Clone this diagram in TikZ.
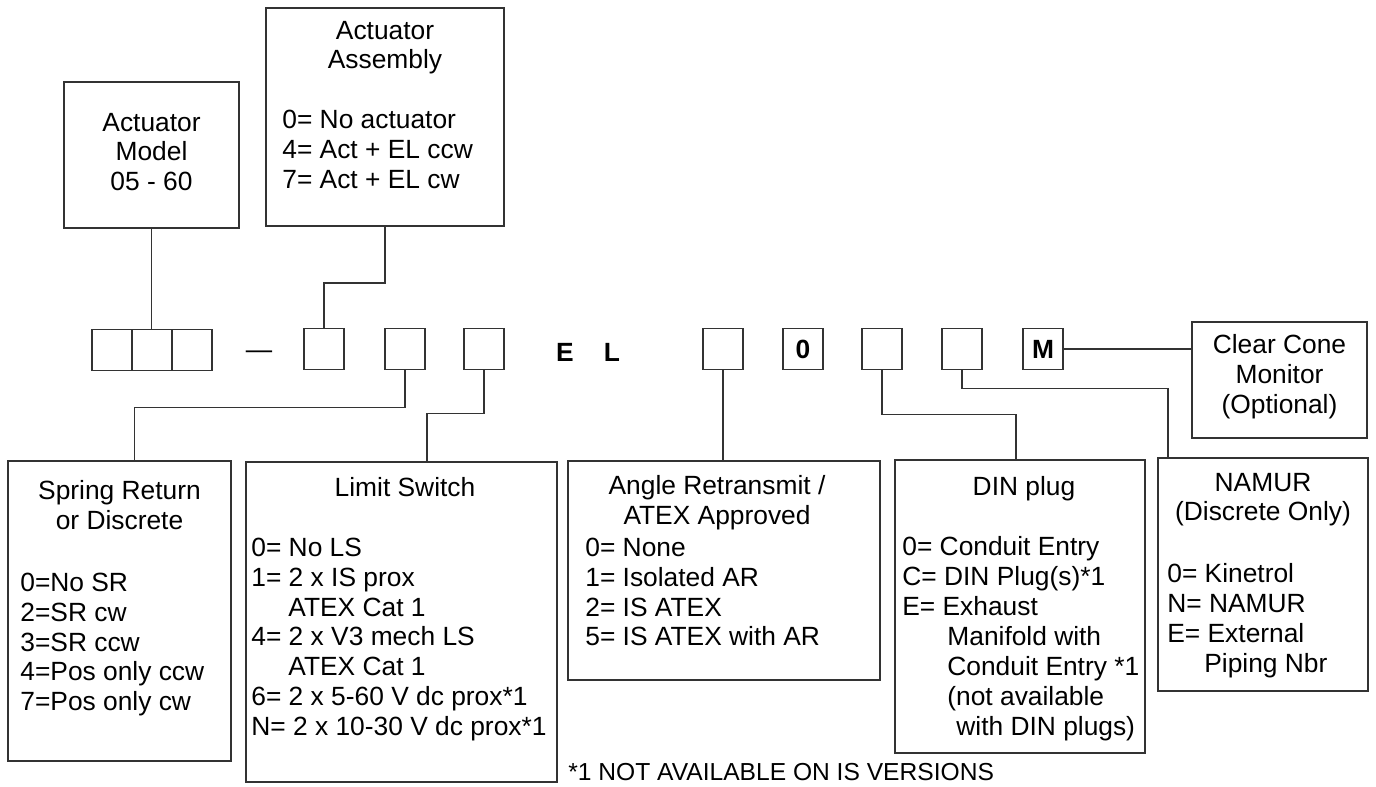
\documentclass[tikz,border=0pt]{standalone}
\usepackage{fontspec}
\setmainfont{Liberation Sans}
\usetikzlibrary{positioning}
\definecolor{edgegray}{HTML}{333333}
\newlength\unitpx
\setlength\unitpx{0.02cm}

\begin{document}
\begin{tikzpicture}[x=0.02cm, y=-0.02cm,
  every node/.style={font=\fontsize{15}{17}\selectfont},
  box/.style={rectangle, draw=edgegray, line width=1.1pt, inner sep=0pt},
  cell/.style={box, minimum width=40\unitpx, minimum height=41\unitpx, font=\fontsize{15}{17}\selectfont\bfseries},
  ttl/.style={inner sep=0pt, align=center, anchor=north, execute at begin node=\strut},
  txt/.style={inner sep=0pt, align=left, anchor=north west, execute at begin node=\strut},
  wire/.style={draw=edgegray, line width=1.1pt}]
\useasboundingbox (0,0) rectangle (1376,787);

% Top boxes
\node[box, minimum width=175\unitpx, minimum height=146\unitpx] (model) at (151.5,155) {};
\node[box, minimum width=238\unitpx, minimum height=218\unitpx] (assembly) at (385,117) {};
\node[box, minimum width=175\unitpx, minimum height=116\unitpx] (cone) at (1279.5,380) {};

% Bottom boxes
\node[box, minimum width=223\unitpx, minimum height=300\unitpx] (spring) at (119.5,611) {};
\node[box, minimum width=311\unitpx, minimum height=320\unitpx] (limit) at (401.5,622) {};
\node[box, minimum width=312\unitpx, minimum height=219\unitpx] (angle) at (724,570.5) {};
\node[box, minimum width=250\unitpx, minimum height=293\unitpx] (din) at (1020,606.5) {};
\node[box, minimum width=210\unitpx, minimum height=233\unitpx] (namur) at (1263,574.5) {};

% Code row
\node[cell] (m1) at (112,350) {};
\node[cell] (m2) at (152,350) {};
\node[cell] (m3) at (192,350) {};
\node[inner sep=0pt] (dash) at (259,355) {\textemdash};
\node[cell] (ca) at (324,349) {};
\node[cell] (cb) at (405,349) {};
\node[cell] (cc) at (484,349) {};
\node[inner sep=0pt, font=\fontsize{15}{17}\selectfont\bfseries] (e) at (565,352) {E};
\node[inner sep=0pt, font=\fontsize{15}{17}\selectfont\bfseries] (l) at (612,352) {L};
\node[cell] (cd) at (723,349) {};
\node[cell] (c0) at (803,349) {0};
\node[cell] (cf) at (882,349) {};
\node[cell] (cg) at (962,349) {};
\node[cell] (cm) at (1043,349) {M};

% Text inside the boxes
\node[ttl] at ([yshift=-31.5\unitpx]model.north) {Actuator\\Model\\05 - 60};
\node[ttl] at ([yshift=-13.5\unitpx]assembly.north) {Actuator\\Assembly};
\node[txt] at ([xshift=17\unitpx, yshift=-102.5\unitpx]assembly.north west) {0= No actuator\\4= Act + EL ccw\\7= Act + EL cw};
\node[ttl] at ([yshift=-13.5\unitpx]cone.north) {Clear Cone\\Monitor\\(Optional)};

\node[ttl] at ([yshift=-20.5\unitpx]spring.north) {Spring Return\\or Discrete};
\node[txt] at ([xshift=13\unitpx, yshift=-112.5\unitpx]spring.north west) {0=No SR\\2=SR cw\\3=SR ccw\\4=Pos only ccw\\7=Pos only cw};

\node[ttl] at ([xshift=3.5\unitpx, yshift=-14.5\unitpx]limit.north) {Limit Switch};
\node[txt] at ([xshift=6\unitpx, yshift=-76.5\unitpx]limit.north west) {0= No LS\\1= 2 x IS prox\\\hspace*{37\unitpx}ATEX Cat 1\\4= 2 x V3 mech LS\\\hspace*{37\unitpx}ATEX Cat 1\\6= 2 x 5-60 V dc prox*1\\N= 2 x 10-30 V dc prox*1};

\node[ttl] at ([xshift=-7\unitpx, yshift=-15.5\unitpx]angle.north) {Angle Retransmit /\\ATEX Approved};
\node[txt] at ([xshift=18\unitpx, yshift=-77.5\unitpx]angle.north west) {0= None\\1= Isolated AR\\2= IS ATEX\\5= IS ATEX with AR};

\node[ttl] at ([xshift=4\unitpx, yshift=-15.5\unitpx]din.north) {DIN plug};
\node[txt] at ([xshift=8\unitpx, yshift=-77.5\unitpx]din.north west) {0= Conduit Entry\\C= DIN Plug(s)*1\\E= Exhaust\\\hspace*{45\unitpx}Manifold with\\\hspace*{45\unitpx}Conduit Entry *1\\\hspace*{45\unitpx}(not available\\\hspace*{54\unitpx}with DIN plugs)};

\node[ttl] at ([yshift=-15.5\unitpx]namur.north) {NAMUR\\(Discrete Only)};
\node[txt] at ([xshift=10\unitpx, yshift=-106.5\unitpx]namur.north west) {0= Kinetrol\\N= NAMUR\\E= External\\\hspace*{37\unitpx}Piping Nbr};

\node[inner sep=0pt, anchor=west, font=\fontsize{14}{16}\selectfont] (note) at (568,772) {*1 NOT AVAILABLE ON IS VERSIONS};

% Connectors
\draw[wire] (model.south) -- (model.south |- m2.north);
\draw[wire] (assembly.south) -- ++(0,56) -| (ca.north);
\draw[wire] (cb.south) -- ++(0,37) -| ([xshift=15\unitpx]spring.north);
\draw[wire] (cc.south) -- ++(0,43) -| ([xshift=25.5\unitpx]limit.north);
\draw[wire] (cd.south) -- (cd.south |- angle.north);
\draw[wire] (cf.south) -- ++(0,44) -| ([xshift=-4\unitpx]din.north);
\draw[wire] (cg.south) -- ++(0,18) -| ([xshift=-95\unitpx]namur.north);
\draw[wire] (cm.east) -- (cm.east -| cone.west);
\end{tikzpicture}
\end{document}
